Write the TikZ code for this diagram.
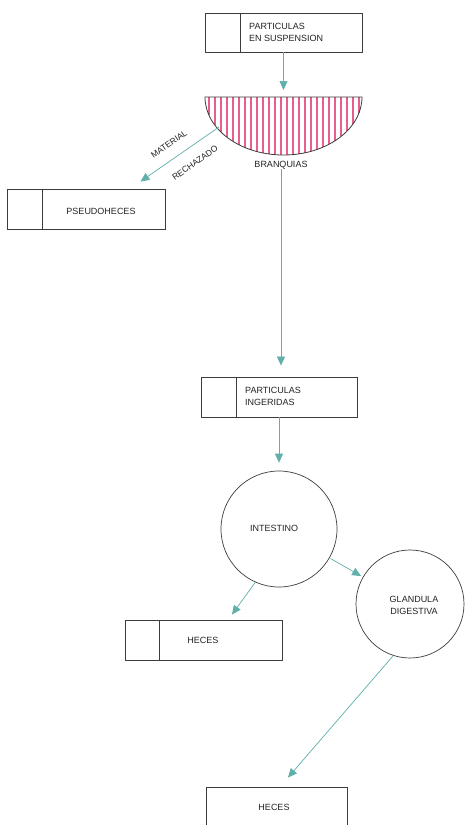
\documentclass[tikz,border=0pt]{standalone}
\usepackage{fontspec}
\setmainfont{Liberation Sans}
\usetikzlibrary{arrows.meta,calc}
\definecolor{arr}{RGB}{95,175,170}
\definecolor{ink}{RGB}{60,60,60}
\definecolor{txt}{RGB}{35,35,35}
\definecolor{pinkhatch}{RGB}{232,95,140}
\begin{document}
\begin{tikzpicture}[x=1pt,y=-1pt,
  box/.style={draw=ink,line width=0.9pt,rectangle,inner sep=0pt},
  divider/.style={draw=ink,line width=0.9pt},
  lbl/.style={font=\fontsize{9}{12}\selectfont,text=txt,inner sep=0pt,align=left},
  clbl/.style={font=\fontsize{9}{12}\selectfont,text=txt,inner sep=0pt,align=center},
  slbl/.style={font=\fontsize{8.5}{10}\selectfont,text=txt,inner sep=0pt,rotate=35},
  circ/.style={draw=ink,line width=0.7pt,circle,inner sep=0pt},
  hatchline/.style={color=pinkhatch,line width=1.3pt},
  flow/.style={draw=arr,line width=0.7pt,-{Triangle[length=9pt,width=8pt,fill=arr]}}]
\useasboundingbox (0,0) rectangle (467,825);
\fill[white] (0,0) rectangle (467,825);

% top box
\node[box,minimum width=157pt,minimum height=39pt] (susp) at (283.5,32.5) {};
\draw[divider] ($(susp.north west)+(36,0)$) -- ($(susp.south west)+(36,0)$);
\node[lbl,anchor=west] (suspt) at (249,32) {PARTICULAS\\EN SUSPENSION};

% branquias semicircle
\coordinate (brtop) at (283.5,97);
\foreach \x in {209,215,...,359} {
  \pgfmathsetmacro\yb{97+58*sqrt(1-((\x-283.5)/78.5)^2)}
  \draw[hatchline] (\x,97) -- (\x,\yb);
}
\draw[ink,line width=0.8pt] (205,97) arc[start angle=180,end angle=360,x radius=78.5pt,y radius=58pt] -- cycle;
\node[clbl] (bran) at (281,165) {BRANQUIAS};
\coordinate (rej) at (219,127);

\draw[flow,shorten >=7pt] (susp.south) -- (brtop);

% pseudoheces
\node[box,minimum width=158pt,minimum height=40pt] (pseudo) at (86,209) {};
\draw[divider] ($(pseudo.north west)+(36,0)$) -- ($(pseudo.south west)+(36,0)$);
\node[clbl] (pseudot) at (101,211) {PSEUDOHECES};
\draw[flow] (rej) -- ($(pseudo.north east)+(-25,-7)$);
\node[slbl] (mat) at (169,144) {MATERIAL};
\node[slbl] (rech) at (195,163) {RECHAZADO};

% particulas ingeridas
\node[box,minimum width=156pt,minimum height=40pt] (ing) at (279,397) {};
\draw[divider] ($(ing.north west)+(36,0)$) -- ($(ing.south west)+(36,0)$);
\node[lbl,anchor=west] (ingt) at (245,396) {PARTICULAS\\INGERIDAS};
\draw[flow,shorten >=11pt] (bran.south) -- (bran.south |- ing.north);

% intestino
\node[circ,minimum size=116pt] (int) at (279,529) {};
\node[clbl] (intt) at (274,528) {INTESTINO};
\draw[flow,shorten >=8pt] (ing.south) -- (int.north);

% glandula
\node[circ,minimum size=108pt] (gland) at (410,604) {};
\node[clbl] (glandt) at (414,605) {GLANDULA\\DIGESTIVA};
\draw[flow,shorten <=1pt,shorten >=2pt] (int) -- (gland);

% heces 1
\node[box,minimum width=157pt,minimum height=40pt] (hec1) at (203.5,640) {};
\draw[divider] ($(hec1.north west)+(35,0)$) -- ($(hec1.south west)+(35,0)$);
\node[clbl] (hec1t) at (203,640) {HECES};
\draw[flow] (int.246) -- ($(hec1.north)+(28.5,-5)$);

% heces 2
\begin{scope}
\clip (0,0) rectangle (467,825);
\node[box,minimum width=141pt,minimum height=44pt] (hec2) at (276.5,809) {};
\end{scope}
\node[clbl] (hec2t) at (274,807) {HECES};
\draw[flow] (gland.252) -- ($(hec2.north)+(11.5,-9)$);
\end{tikzpicture}
\end{document}
